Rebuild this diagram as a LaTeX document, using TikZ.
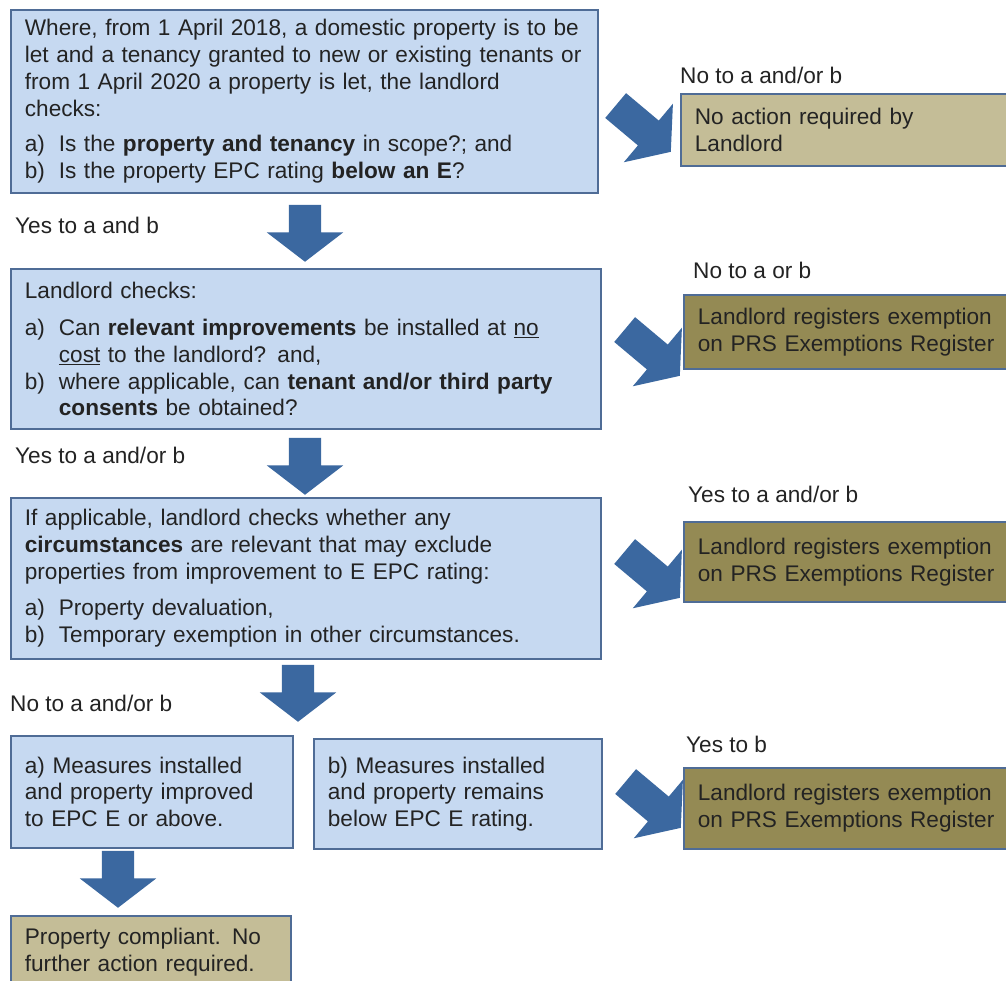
\documentclass[tikz,border=0pt]{standalone}
\usepackage{fontspec}
\setmainfont{Liberation Sans}
\usetikzlibrary{shapes.arrows}
\definecolor{boxblue}{RGB}{198,217,241}
\definecolor{boxline}{RGB}{79,108,150}
\definecolor{arrowblue}{RGB}{59,104,160}
\definecolor{tanbox}{RGB}{196,189,151}
\definecolor{olivebox}{RGB}{148,138,84}
\definecolor{inktext}{RGB}{35,35,35}
\newcommand{\itm}[1]{\makebox[34pt][l]{#1}}
\newcommand{\cnt}{\hspace*{34pt}}

\begin{document}
\begin{tikzpicture}[x=1pt,y=-1pt]
			\tikzstyle{every node}+=[font=\fontsize{22.6}{26.7}\selectfont, text=inktext]
			\tikzstyle{check}=[draw=boxline, line width=1.8pt, fill=boxblue, anchor=north west, align=left, inner xsep=14pt, inner ysep=0pt]
			\tikzstyle{outcome}=[check, fill=tanbox]
			\tikzstyle{exempt}=[check, fill=olivebox]
			\tikzstyle{answer}=[anchor=west, inner sep=0pt]
			\tikzstyle{fat arrow}=[single arrow, fill=arrowblue, draw=none, inner sep=16pt, minimum height=57pt, single arrow head extend=22pt, single arrow tip angle=105, anchor=tip]
			\tikzstyle{slant arrow}=[fat arrow, minimum height=72pt, rotate=-40]
			\useasboundingbox (0,0) rectangle (1006,980);
			\fill [white] (0,0) rectangle (1006,980);
			\node [check, minimum width=587pt, minimum height=183pt, text width=559pt] (scope) at (10,9) {Where, from 1 April 2018, a domestic property is to be\\
let and a tenancy granted to new or existing tenants or\\
from 1 April 2020 a property is let, the landlord\\
checks:\\[9pt]
\itm{a)}Is the \textbf{property and tenancy} in scope?; and\\
\itm{b)}Is the property EPC rating \textbf{below an E}?};
			\node [check, minimum width=590pt, minimum height=160pt, text width=562pt] (costs) at (10,268) {Landlord checks:\\[11pt]
\itm{a)}Can \textbf{relevant improvements} be installed at \underline{no}\\
\cnt\underline{cost} to the landlord? and,\\
\itm{b)}where applicable, can \textbf{tenant and/or third party}\\
\cnt\textbf{consents} be obtained?};
			\node [check, minimum width=590pt, minimum height=161pt, text width=562pt] (circs) at (10,497) {If applicable, landlord checks whether any\\
\textbf{circumstances} are relevant that may exclude\\
properties from improvement to E EPC rating:\\[10pt]
\itm{a)}Property devaluation,\\
\itm{b)}Temporary exemption in other circumstances.};
			\node [check, minimum width=282pt, minimum height=112pt, text width=254pt] (improved) at (10,735) {a) Measures installed\\and property improved\\to EPC E or above.};
			\node [check, minimum width=288pt, minimum height=110pt, text width=260pt] (below) at (313,738) {b) Measures installed\\and property remains\\below EPC E rating.};
			\node [outcome, minimum width=280pt, minimum height=72pt, text width=252pt] (compliant) at (10,915) {Property compliant. No\\further action required.};
			\node [outcome, minimum width=332pt, minimum height=72pt, text width=304pt] (noaction) at (680,93) {No action required by\\Landlord};
			\node [exempt, minimum width=329pt, minimum height=74pt, text width=301pt] (exempt1) at (683,294) {Landlord registers exemption\\on PRS Exemptions Register};
			\node [exempt, minimum width=329pt, minimum height=80pt, text width=301pt] (exempt2) at (683,521) {Landlord registers exemption\\on PRS Exemptions Register};
			\node [exempt, minimum width=329pt, minimum height=81pt, text width=301pt] (exempt3) at (683,767) {Landlord registers exemption\\on PRS Exemptions Register};
			\node [answer] (yes1) at (15,225) {Yes to a and b};
			\node [answer] (yes2) at (15,455) {Yes to a and/or b};
			\node [answer] (no3) at (10,703) {No to a and/or b};
			\node [answer] (no1) at (680,75) {No to a and/or b};
			\node [answer] (no2) at (693,270) {No to a or b};
			\node [answer] (yes3) at (688,494) {Yes to a and/or b};
			\node [answer] (yes4) at (686,744) {Yes to b};
			\node [fat arrow, rotate=-90] (down1) at (305,262) {};
			\node [fat arrow, rotate=-90] (down2) at (305,495) {};
			\node [fat arrow, rotate=-90] (down3) at (298,722) {};
			\node [fat arrow, rotate=-90] (down4) at (118,908) {};
			\node [slant arrow] (side1) at (671,152) {};
			\node [slant arrow] (side2) at (680,376) {};
			\node [slant arrow] (side3) at (680,598) {};
			\node [slant arrow] (side4) at (681,828) {};
\end{tikzpicture}
\end{document}
